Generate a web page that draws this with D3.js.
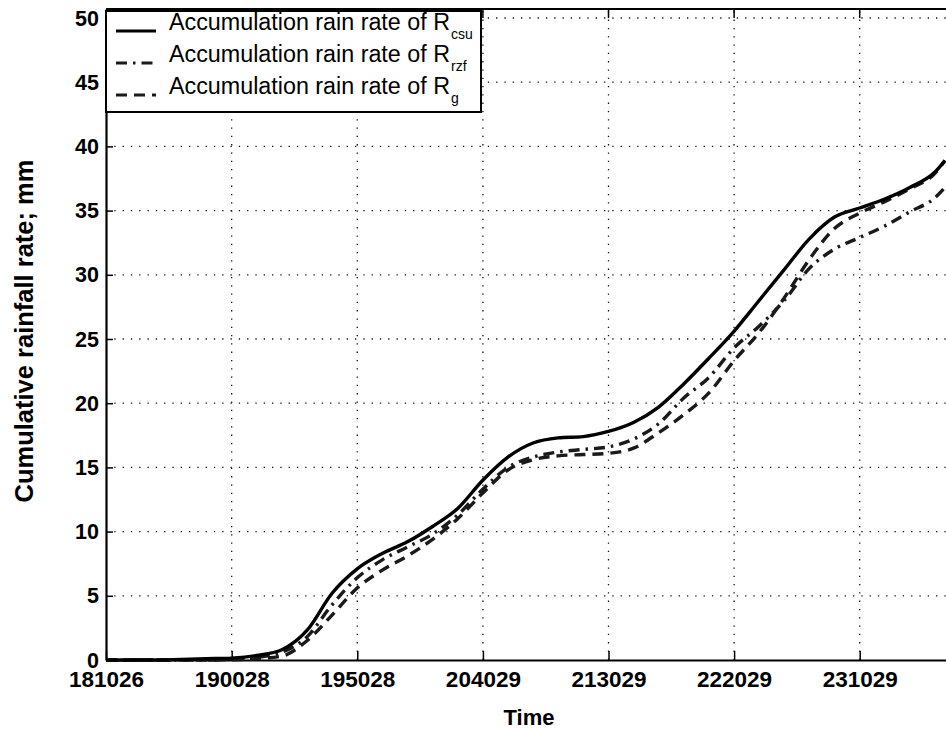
<!DOCTYPE html>
<html>
<head>
    <meta charset="utf-8">
    <style>
        body {
            margin: 0;
            background: #fff;
        }
        svg {
            font-family: 'Liberation Sans', Arial, Helvetica, sans-serif;
            display: block;
        }
    </style>
</head>
<body>
    <svg width="946" height="729"></svg>

<script src="https://d3js.org/d3.v7.min.js"></script>
<script>
    // time axis: minutes after 18:10:26
    let minutes = [0, 10, 20, 30, 40, 50, 60, 70, 80, 90, 100, 110, 120, 130, 140, 150, 160, 170,
        180, 190, 200, 210, 220, 230, 240, 250, 260, 270, 280, 290, 300, 310, 320, 330, 334];

    let rCsu = [0, 0, 0, 0.05, 0.1, 0.15, 0.35, 0.8, 2.3, 5.2, 7.1, 8.3, 9.2, 10.4, 11.8, 14.0, 15.8, 16.9,
        17.3, 17.4, 17.8, 18.5, 19.7, 21.5, 23.5, 25.6, 28.0, 30.4, 32.8, 34.5, 35.2, 35.9, 36.8, 38.0, 38.9];

    let rRzf = [0, 0, 0, 0, 0, 0.05, 0.2, 0.6, 1.8, 4.3, 6.4, 7.8, 8.8, 9.8, 11.3, 13.3, 15.0, 15.8,
        16.2, 16.4, 16.6, 17.2, 18.4, 20.4, 22.0, 24.3, 26.0, 28.0, 30.5, 32.0, 32.9, 33.8, 34.9, 36.0, 36.8];

    let rG = [0, 0, 0, 0, 0, 0.02, 0.1, 0.3, 1.5, 3.5, 5.6, 7.0, 8.1, 9.4, 11.0, 13.0, 14.8, 15.6,
        15.9, 16.0, 16.1, 16.5, 17.7, 19.1, 20.8, 23.3, 25.5, 28.2, 31.2, 33.6, 34.8, 35.7, 36.7, 37.9, 38.9];

    let xTickLabels = ["181026", "190028", "195028", "204029", "213029", "222029", "231029"];
    let yTicks = [0, 5, 10, 15, 20, 25, 30, 35, 40, 45, 50];

    let legendNames = ["csu", "rzf", "g"];

    // hhmmss -> minutes after first tick
    function toMin(s) {
        let t = (+s.slice(0, 2)) * 60 + (+s.slice(2, 4)) + (+s.slice(4, 6)) / 60;
        return t - (18 * 60 + 10 + 26 / 60);
    }

    let svg = d3.select("svg");

    let mLeft = 106, mRight = 950, mTop = 9, mBottom = 660;

    let x = d3.scaleLinear()
        .domain([0, 336])
        .range([mLeft, mRight]);

    let y = d3.scaleLinear()
        .domain([0, 50.7])
        .range([mBottom, mTop]);

    let xTicks = xTickLabels.map(toMin);

    // dotted grid
    let grid = svg.append("g")
        .style("stroke", "#111")
        .style("stroke-width", 1.3)
        .style("stroke-dasharray", "1.3,7");

    grid.selectAll(".vg")
        .data(xTicks.slice(1))
        .join("line")
        .attr("x1", d => x(d)).attr("x2", d => x(d))
        .attr("y1", mBottom).attr("y2", mTop);

    grid.selectAll(".hg")
        .data(yTicks.slice(1))
        .join("line")
        .attr("x1", mLeft).attr("x2", mRight)
        .attr("y1", d => y(d)).attr("y2", d => y(d));

    // axes (matlab style, ticks inside)
    let xAxis = d3.axisBottom(x)
        .tickValues(xTicks)
        .tickFormat((d, i) => xTickLabels[i])
        .tickSizeInner(-9)
        .tickSizeOuter(0);

    let yAxis = d3.axisLeft(y)
        .tickValues(yTicks)
        .tickSizeInner(-7)
        .tickSizeOuter(0)
        .tickPadding(7);

    let gx = svg.append("g")
        .attr("transform", `translate(0,${mBottom})`)
        .call(xAxis);

    let gy = svg.append("g")
        .attr("transform", `translate(${mLeft},0)`)
        .call(yAxis);

    // top ticks
    svg.append("g")
        .selectAll("line")
        .data(xTicks.slice(1))
        .join("line")
        .attr("x1", d => x(d)).attr("x2", d => x(d))
        .attr("y1", mTop).attr("y2", mTop + 9)
        .style("stroke", "#000")
        .style("stroke-width", 1.5);

    [gx, gy].forEach(g => {
        g.select(".domain").style("stroke", "#000").style("stroke-width", 2.2);
        g.selectAll(".tick line").style("stroke", "#000").style("stroke-width", 1.5);
        g.selectAll(".tick text")
            .style("font-size", "22.5px")
            .style("font-weight", "bold")
            .style("fill", "#000");
    });
    gy.selectAll(".tick text").attr("dy", "0.33em").style("font-size", "21.5px");
    gx.selectAll(".tick text").attr("y", 27).attr("dy", 0);

    svg.append("line")
        .attr("x1", mLeft).attr("x2", mRight)
        .attr("y1", mTop).attr("y2", mTop)
        .style("stroke", "#000")
        .style("stroke-width", 2);

    // lines
    let series = [
        { name: "csu", values: rCsu, dash: null, color: "#000" },
        { name: "rzf", values: rRzf, dash: "11,6,2.5,6", color: "#1a1a1a" },
        { name: "g", values: rG, dash: "11,7", color: "#1a1a1a" }
    ];

    let line = d3.line()
        .x((d, i) => x(minutes[i]))
        .y(d => y(d))
        .curve(d3.curveMonotoneX);

    svg.append("g")
        .selectAll("path")
        .data(series.slice().reverse())
        .join("path")
        .attr("d", d => line(d.values))
        .style("fill", "none")
        .style("stroke", d => d.color)
        .style("stroke-width", 3.4)
        .style("stroke-dasharray", d => d.dash)
        .style("stroke-linejoin", "round");

    // legend
    let lg = svg.append("g");

    lg.append("rect")
        .attr("x", mLeft).attr("y", 11)
        .attr("width", 375).attr("height", 101)
        .style("fill", "#fff")
        .style("stroke", "#000")
        .style("stroke-width", 2);

    let rows = lg.selectAll(".row")
        .data(series)
        .join("g")
        .attr("transform", (d, i) => `translate(0,${30 + i * 32})`);

    rows.append("line")
        .attr("x1", 116).attr("x2", 156)
        .attr("y1", 1).attr("y2", 1)
        .style("stroke", d => d.color)
        .style("stroke-width", 3)
        .style("stroke-dasharray", d => d.dash);

    let txt = rows.append("text")
        .attr("x", 169)
        .attr("y", 0)
        .style("font-size", "23.3px")
        .style("fill", "#000");

    txt.append("tspan").text("Accumulation rain rate of R");
    txt.append("tspan")
        .attr("dy", 9)
        .attr("dx", 1)
        .style("font-size", "14px")
        .text((d, i) => legendNames[i]);

    // axis titles
    svg.append("text")
        .attr("transform", "translate(33,331) rotate(-90)")
        .attr("text-anchor", "middle")
        .style("font-size", "25.5px")
        .style("font-weight", "bold")
        .text("Cumulative rainfall rate; mm");

    svg.append("text")
        .attr("x", 529)
        .attr("y", 725)
        .attr("text-anchor", "middle")
        .style("font-size", "22px")
        .style("font-weight", "bold")
        .text("Time");
</script>
</body>
</html>
